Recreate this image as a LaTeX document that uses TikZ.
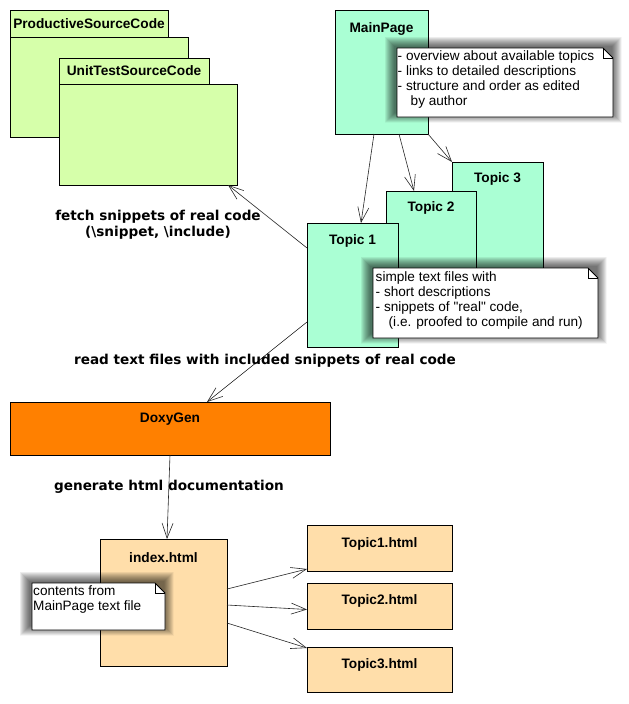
\documentclass[tikz,border=0pt]{standalone}
\usepackage{fontspec}
\setmainfont{Liberation Sans}
\newfontfamily\dvsans{DejaVu Sans}
\usetikzlibrary{arrows.meta}
\definecolor{limeg}{RGB}{214,255,170}
\definecolor{mintg}{RGB}{170,255,212}
\definecolor{peach}{RGB}{255,222,170}
\definecolor{doxyor}{RGB}{255,128,0}
% soft shadow behind a note: #1,#2 = top-left, #3,#4 = bottom-right (pixel coords)
\newcommand\mynoteshadow[4]{%
  \foreach \i in {0,0.5,...,9.5}{%
    \fill[black, opacity=0.034] (#1-3-\i, #2-2-\i) rectangle (#3-1+\i, #4-4+\i);
  }%
}
\begin{document}
\begin{tikzpicture}[x=1pt,y=-1pt,
  box/.style={draw=black, line width=0.9pt, inner sep=0pt, outer sep=0pt, anchor=north west},
  title/.style={font=\fontsize{13.7}{15}\selectfont\bfseries, anchor=base, inner sep=0pt},
  notetext/.style={font=\fontsize{13.6}{15}\selectfont, align=left, anchor=north west, inner sep=0pt},
  notebg/.style={fill=white, draw=black, line width=0.9pt},
  fold/.style={draw=black, line width=0.9pt},
  lbl/.style={font=\dvsans\bfseries\fontsize{13.6}{16}\selectfont, align=center, inner sep=0pt},
  dep/.style={draw=black!85, line width=0.6pt, -{Straight Barb[length=15pt,width=11pt,line width=0.6pt]}}
]
\useasboundingbox[fill=white] (0,0) rectangle (629,704);

% source code packages
\node[box, fill=limeg, minimum width=158pt, minimum height=27pt] (psctab) at (10,10) {};
\node[box, fill=limeg, minimum width=178pt, minimum height=100pt] (pscbody) at (10,37) {};
\node[title] (psctitle) at (89,28.5) {ProductiveSourceCode};
\node[box, fill=limeg, minimum width=150pt, minimum height=26pt] (uttab) at (59,58) {};
\node[box, fill=limeg, minimum width=178pt, minimum height=101pt] (utbody) at (59,84) {};
\node[title] (uttitle) at (134,75.5) {UnitTestSourceCode};

% main page
\node[box, fill=mintg, minimum width=93pt, minimum height=124pt] (mainpage) at (335,10) {};
\node[title] (mptitle) at (381.5,32.5) {MainPage};
\mynoteshadow{397}{48}{613}{117}
\path[notebg] (397,48) -- (603,48) -- (613,58) -- (613,117) -- (397,117) -- cycle;
\draw[fold] (603,48) -- (603,58) -- (613,58);
\node[notetext] (note1) at (397.5,50.5) {- overview about available topics\\- links to detailed descriptions\\- structure and order as edited\\\hspace*{13pt}by author};

% topics
\node[box, fill=mintg, minimum width=91pt, minimum height=158pt] (topic3) at (452,162) {};
\node[title] (t3title) at (497.5,182.5) {Topic 3};
\node[box, fill=mintg, minimum width=90pt, minimum height=129pt] (topic2) at (386,191) {};
\node[title] (t2title) at (431,211.5) {Topic 2};
\node[box, fill=mintg, minimum width=91pt, minimum height=124pt] (topic1) at (307,223) {};
\node[title] (t1title) at (352.5,244.5) {Topic 1};
\mynoteshadow{373}{268}{598}{338}
\path[notebg] (373,268) -- (588,268) -- (598,278) -- (598,338) -- (373,338) -- cycle;
\draw[fold] (588,268) -- (588,278) -- (598,278);
\node[notetext] (note2) at (375.5,271.5) {simple text files with\\- short descriptions\\- snippets of \textquotedbl real\textquotedbl\ code,\\\hspace*{13pt}(i.e. proofed to compile and run)};

\draw[dep] ([xshift=-7.5pt]mainpage.south) -- ([xshift=8.5pt]topic1.north);
\draw[dep] ([xshift=17.5pt]mainpage.south) -- ([xshift=-17pt]topic2.north);
\draw[dep] (mainpage.south east) -- (topic3.north west);

% doxygen
\node[box, fill=doxyor, minimum width=320pt, minimum height=53pt] (doxy) at (10,402) {};
\node[title] (doxytitle) at (170,422.5) {DoxyGen};

\draw[dep] ([yshift=37pt]topic1.west) -- ([xshift=-9pt]utbody.south east);
\node[lbl] (fetchlbl) at (158,225) {fetch snippets of real code\\(\textbackslash snippet, \textbackslash include)};
\draw[dep] ([yshift=-37pt]topic1.west) -- ([xshift=37pt]doxy.north);
\node[lbl] (readlbl) at (265,361) {read text files with included snippets of real code};

% html output
\node[box, fill=peach, minimum width=127pt, minimum height=127pt] (index) at (100,539) {};
\node[title] (indextitle) at (163.5,562.5) {index.html};
\mynoteshadow{32}{583}{165}{630}
\path[notebg] (32,583) -- (155,583) -- (165,593) -- (165,630) -- (32,630) -- cycle;
\draw[fold] (155,583) -- (155,593) -- (165,593);
\node[notetext] (note3) at (33,585.5) {contents from\\MainPage text file};

\draw[dep] (doxy.south) -- ([xshift=3.5pt]index.north);
\node[lbl] (genlbl) at (169,487) {generate html documentation};

\node[box, fill=peach, minimum width=145pt, minimum height=46pt] (h1) at (307,525) {};
\node[title] (h1title) at (379.5,547.5) {Topic1.html};
\node[box, fill=peach, minimum width=145pt, minimum height=46pt] (h2) at (307,583) {};
\node[title] (h2title) at (379.5,604.5) {Topic2.html};
\node[box, fill=peach, minimum width=145pt, minimum height=45pt] (h3) at (307,647) {};
\node[title] (h3title) at (379.5,668.5) {Topic3.html};

\draw[dep] ([yshift=13.5pt]index.east) -- ([yshift=2pt]h1.south west);
\draw[dep] ([yshift=-2.5pt]index.east) -- ([yshift=-3.5pt]h2.west);
\draw[dep] ([yshift=-20.5pt]index.east) -- ([yshift=-1pt]h3.north west);
\end{tikzpicture}
\end{document}
